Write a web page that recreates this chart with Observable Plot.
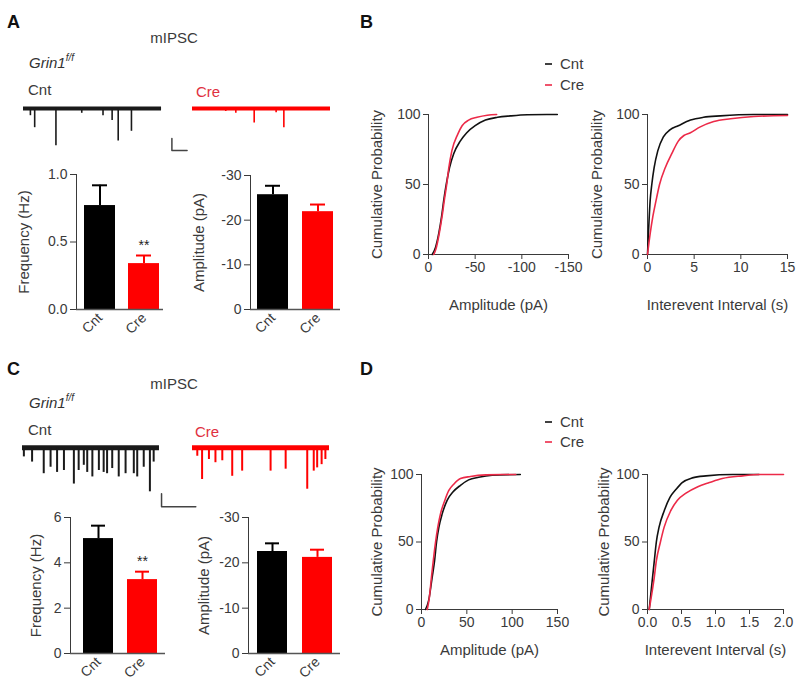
<!DOCTYPE html>
<html><head><meta charset="utf-8">
<script src="https://cdn.jsdelivr.net/npm/d3@7"></script>
<script src="https://cdn.jsdelivr.net/npm/@observablehq/plot@0.6"></script>
<style>
html,body{margin:0;padding:0;background:#fff;}
#fig{position:relative;width:800px;height:689px;overflow:hidden;background:#fff;}
#fig svg{position:absolute;overflow:visible;}
#fig g[aria-label$="axis label"]{font-size:15px;}
</style></head><body><div id="fig"></div><script>
// ---------- DATA ----------
const groups = ["Cnt", "Cre"];
// Panel A bars
const freqA = [0.77, 0.34], freqA_sem = [0.15, 0.06];
const ampA = [25.7, 21.9], ampA_sem = [2.0, 1.6];
// Panel C bars
const freqC = [5.07, 3.26], freqC_sem = [0.57, 0.35];
const ampC = [22.5, 21.2], ampC_sem = [1.8, 1.7];

// Example traces: event time (s) and amplitude (pA)
const traceA_cnt_t = [0.5, 0.81, 2.35, 4.22, 5.76, 6.42, 6.86, 7.82];
const traceA_cnt_amp = [6, 16, 31, 4, 6, 10, 27, 19];
const traceA_cre_t = [2.41, 3.14, 4.47, 6.06, 6.62];
const traceA_cre_amp = [2.5, 4, 12, 3.5, 16];
const traceC_cnt_t = [0.04,0.28,0.62,0.82,1.01,1.21,1.50,1.64,1.79,1.89,2.04,2.23,2.37,2.47,2.62,2.81,3.01,3.25,3.35,3.54,3.72,3.83];
const traceC_cnt_amp = [7,11,20,15,19,17.5,28,17.5,13.5,19,22.5,17.5,19,20,16,22.5,20,20,22.5,15,34,11];
const traceC_cre_t = [0.14,0.28,0.48,0.67,0.87,1.16,1.45,2.28,2.72,3.35,3.54,3.64,3.77,3.88];
const traceC_cre_amp = [6.5,24.5,9,11.5,10,22,18,18,16.5,32,18,15.5,13,9];

// Cumulative distributions [x, cumulative %]
const cumB_amp_cnt = [[4,0],[7.5,5],[11,15],[14,27],[16.4,39],[19,50],[22.5,62],[27,72],[34,81],[41,87],[50,92],[61,96],[74,98],[88,99],[106,99.8],[138,100]];
const cumB_amp_cre = [[5.7,0],[8,4],[11.5,15],[14.5,27],[17,39],[19.5,50],[21.8,62],[25,74],[31.4,86],[36,92],[43,96],[52,98],[63,99.5],[73,100]];
const cumB_int_cnt = [[0,0],[0.1,15],[0.29,39],[0.46,50],[0.71,62],[1.1,74],[1.7,84],[2.4,89],[3.3,92],[4.6,96],[6,98],[7.8,99],[11.4,100],[15,100]];
const cumB_int_cre = [[0,0],[0.29,15],[0.57,27],[0.93,39],[1.29,50],[1.9,62],[2.6,72],[3.3,81],[3.9,85],[4.6,87],[5.6,91],[7.1,95],[8.9,97],[11.4,98.6],[15,99.3]];
const cumD_amp_cnt = [[4.4,0],[8,7],[11.8,24],[14.4,36],[16.6,50],[19.2,61],[22.9,71],[28.4,81],[34.6,87],[43,92],[52,96],[63,98],[78,99.5],[109,100]];
const cumD_amp_cre = [[6.3,0],[8.5,8],[11,24],[15.5,50],[18,61],[21,71],[25.8,81],[30,88],[35.8,93],[43,97],[54,98.5],[71,99.7],[89,100],[104,100]];
const cumD_int_cnt = [[0.025,0],[0.05,12],[0.1,36],[0.13,50],[0.17,61],[0.245,73],[0.33,83],[0.42,89],[0.51,94],[0.66,97.5],[0.86,99],[1.25,100],[1.64,100]];
const cumD_int_cre = [[0.025,0],[0.064,12],[0.1,24],[0.13,36],[0.19,50],[0.245,61],[0.34,73],[0.44,81],[0.56,86],[0.74,91],[0.91,94],[1.1,97],[1.4,99],[1.64,100],[2.0,100]];

// ---------- STYLE ----------
const FONT = '"Liberation Sans", Arial, Helvetica, sans-serif';
const INK = "#3a3a3a";
const BLACK = "#111111";
const RED_BAR = "#ff0000";
const RED_LINE = "#ec2a48";
const RED_TEXT = "#e0303e";
const fig = document.getElementById("fig");

function place(el, left, top) {
  el.style.position = "absolute";
  el.style.left = left + "px";
  el.style.top = top + "px";
  el.style.maxWidth = "none";
  fig.appendChild(el);
}
function style(size = 14) {
  return {fontFamily: FONT, fontSize: size + "px", color: INK, background: "transparent", overflow: "visible"};
}
function bandOpts(r0, r1, st, bw, s) {
  const n = 2, pi = 1 - bw / s;
  const po = ((r1 - r0) / s - n + pi) / 2;
  const align = (st - r0) / ((r1 - r0) - s * (n - pi));
  return {paddingInner: pi, paddingOuter: po, align};
}

// ---------- TRACES ----------
function trace({left, top, width, height, tMax, tLen, yDom, t, amp, color, base, spikeW, bar}) {
  const ev = t.map((ti, i) => ({t: ti, a: -amp[i]}));
  const marks = [
    Plot.ruleY([0], {x1: 0, x2: tLen, stroke: color, strokeWidth: base}),
    Plot.ruleX(ev, {x: "t", y1: 0, y2: "a", stroke: color, strokeWidth: spikeW})
  ];
  if (bar) {
    const pts = [{t: bar.t0, a: bar.a0}, {t: bar.t0, a: bar.a0 - bar.pA}, {t: bar.t0 + bar.s, a: bar.a0 - bar.pA}];
    marks.push(Plot.line(pts, {x: "t", y: "a", stroke: "#444", strokeWidth: 1.5}));
  }
  const p = Plot.plot({width, height, margin: 0, x: {domain: [0, tMax], axis: null}, y: {domain: yDom, axis: null}, marks, style: style()});
  place(p, left, top);
}
trace({left: 23, top: 96, width: 168, height: 66, tMax: 12.17, tLen: 10, yDom: [-45, 10], t: traceA_cnt_t, amp: traceA_cnt_amp, color: "#1a1a1a", base: 4, spikeW: 1.6, bar: {t0: 10.75, a0: -25, pA: 10, s: 1.1}});
trace({left: 192, top: 96, width: 138, height: 66, tMax: 10, tLen: 10, yDom: [-45, 10], t: traceA_cre_t, amp: traceA_cre_amp, color: RED_BAR, base: 4, spikeW: 1.6});
trace({left: 22, top: 437, width: 175, height: 75, tMax: 5.11, tLen: 4, yDom: [-50, 8], t: traceC_cnt_t, amp: traceC_cnt_amp, color: "#1a1a1a", base: 5, spikeW: 2, bar: {t0: 4.06, a0: -35.5, pA: 10, s: 1}});
trace({left: 192, top: 437, width: 137, height: 75, tMax: 4, tLen: 4, yDom: [-50, 8], t: traceC_cre_t, amp: traceC_cre_amp, color: RED_BAR, base: 5, spikeW: 2});

// ---------- BARS ----------
function bars({left, top, width, height, axisX, axisEnd, yTop, yBottom, st, bw, s, domain, ticks, fmt, label, labelOffset, vals, sems, stars}) {
  const data = groups.map((g, i) => ({g, v: vals[i], e: sems[i], c: i === 0 ? "#000000" : RED_BAR}));
  const marks = [
    Plot.barY(data, {x: "g", y: "v", fill: "c"}),
    Plot.ruleX(data, {x: "g", y1: "v", y2: d => d.v + d.e, stroke: "c", strokeWidth: 2}),
    Plot.tickY(data, {x: "g", y: d => d.v + d.e, stroke: "c", strokeWidth: 2, insetLeft: 8, insetRight: 8}),
    Plot.ruleY([0], {stroke: "#555", strokeWidth: 1.5})
  ];
  if (stars) marks.push(Plot.text([data[1]], {x: "g", y: d => d.v + d.e, text: () => "**", dy: -10, fontSize: 14, fill: "#222"}));
  const p = Plot.plot({
    width, height,
    marginLeft: axisX - left, marginRight: left + width - axisEnd,
    marginTop: yTop - top, marginBottom: top + height - yBottom,
    color: {type: "identity"},
    x: {domain: groups, ...bandOpts(axisX, axisEnd, st, bw, s), tickRotate: -45, tickSize: 0, tickPadding: 6, label: null},
    y: {domain, ticks, tickFormat: fmt, label, labelArrow: "none", labelAnchor: "center", labelOffset, line: true, tickSize: 6, tickPadding: 3},
    marks, style: style(14)
  });
  place(p, left, top);
}
const negFmt = d => d === 0 ? "0" : "-" + d;
bars({left: 0, top: 150, width: 175, height: 200, axisX: 76, axisEnd: 163, yTop: 174, yBottom: 309, st: 83, bw: 32, s: 45,
  domain: [0, 1], ticks: [0, 0.5, 1], fmt: d3.format(".1f"), label: "Frequency (Hz)", labelOffset: 58, vals: freqA, sems: freqA_sem, stars: true});
bars({left: 170, top: 150, width: 180, height: 200, axisX: 250, axisEnd: 340, yTop: 175, yBottom: 309, st: 257, bw: 31, s: 45,
  domain: [0, 30], ticks: [0, 10, 20, 30], fmt: negFmt, label: "Amplitude (pA)", labelOffset: 57, vals: ampA, sems: ampA_sem});
bars({left: 0, top: 495, width: 175, height: 195, axisX: 70, axisEnd: 165, yTop: 517, yBottom: 653, st: 83, bw: 30, s: 44,
  domain: [0, 6], ticks: [0, 2, 4, 6], fmt: d3.format("d"), label: "Frequency (Hz)", labelOffset: 40, vals: freqC, sems: freqC_sem, stars: true});
bars({left: 170, top: 495, width: 180, height: 195, axisX: 248, axisEnd: 340, yTop: 517, yBottom: 653, st: 257, bw: 30, s: 45,
  domain: [0, 30], ticks: [0, 10, 20, 30], fmt: negFmt, label: "Amplitude (pA)", labelOffset: 50, vals: ampC, sems: ampC_sem});

// ---------- CUMULATIVE ----------
function cum({left, top, width, height, fx0, fx1, fy0, fy1, xDomain, xTicks, xFmt, xLabel, xLabelOffset, yLabelOffset, cnt, cre}) {
  const toObj = a => a.map(([x, y]) => ({x, y}));
  const p = Plot.plot({
    width, height,
    marginLeft: fx0 - left, marginRight: left + width - fx1,
    marginTop: fy0 - top, marginBottom: top + height - fy1,
    x: {domain: xDomain, ticks: xTicks, tickFormat: xFmt, label: xLabel, labelArrow: "none", labelAnchor: "center", labelOffset: xLabelOffset, line: true, tickSize: 5, tickPadding: 3},
    y: {domain: [0, 100], ticks: [0, 50, 100], label: "Cumulative Probability", labelArrow: "none", labelAnchor: "center", labelOffset: yLabelOffset, line: true, tickSize: 5, tickPadding: 3},
    marks: [
      Plot.line(toObj(cnt), {x: "x", y: "y", stroke: BLACK, strokeWidth: 1.6, curve: "monotone-x"}),
      Plot.line(toObj(cre), {x: "x", y: "y", stroke: RED_LINE, strokeWidth: 1.6, curve: "monotone-x"})
    ],
    style: style(14)
  });
  place(p, left, top);
}
cum({left: 360, top: 100, width: 220, height: 215, fx0: 428, fx1: 568, fy0: 114, fy1: 254, xDomain: [0, 150], xTicks: [0, 50, 100, 150], xFmt: negFmt,
  xLabel: "Amplitude (pA)", xLabelOffset: 55, yLabelOffset: 57, cnt: cumB_amp_cnt, cre: cumB_amp_cre});
cum({left: 580, top: 100, width: 220, height: 215, fx0: 647, fx1: 787, fy0: 114, fy1: 254, xDomain: [0, 15], xTicks: [0, 5, 10, 15], xFmt: d3.format("d"),
  xLabel: "Interevent Interval (s)", xLabelOffset: 55, yLabelOffset: 56, cnt: cumB_int_cnt, cre: cumB_int_cre});
cum({left: 360, top: 460, width: 215, height: 200, fx0: 421, fx1: 557, fy0: 474, fy1: 609, xDomain: [0, 150], xTicks: [0, 50, 100, 150], xFmt: d3.format("d"),
  xLabel: "Amplitude (pA)", xLabelOffset: 45, yLabelOffset: 50, cnt: cumD_amp_cnt, cre: cumD_amp_cre});
cum({left: 580, top: 460, width: 215, height: 200, fx0: 647, fx1: 783, fy0: 474, fy1: 609, xDomain: [0, 2], xTicks: [0, 0.5, 1, 1.5, 2], xFmt: d3.format(".1f"),
  xLabel: "Interevent Interval (s)", xLabelOffset: 45, yLabelOffset: 49, cnt: cumD_int_cnt, cre: cumD_int_cre});

// ---------- ANNOTATIONS ----------
const NS = "http://www.w3.org/2000/svg";
const ov = document.createElementNS(NS, "svg");
ov.setAttribute("width", 800); ov.setAttribute("height", 689);
ov.style.left = "0px"; ov.style.top = "0px"; ov.style.pointerEvents = "none";
ov.setAttribute("font-family", FONT);
fig.appendChild(ov);
function txt(x, y, s, o = {}) {
  const t = document.createElementNS(NS, "text");
  t.setAttribute("x", x); t.setAttribute("y", y);
  t.setAttribute("font-size", o.size || 15);
  t.setAttribute("fill", o.fill || INK);
  if (o.weight) t.setAttribute("font-weight", o.weight);
  if (o.anchor) t.setAttribute("text-anchor", o.anchor);
  if (o.italic) t.setAttribute("font-style", "italic");
  t.textContent = s;
  ov.appendChild(t);
  return t;
}
function grin(x, y) {
  const t = txt(x, y, "Grin1", {italic: true, fill: "#333"});
  const sup = document.createElementNS(NS, "tspan");
  sup.setAttribute("font-size", 10); sup.setAttribute("dy", -7);
  sup.textContent = "f/f";
  t.appendChild(sup);
}
function dash(x1, x2, y, c) {
  const l = document.createElementNS(NS, "line");
  l.setAttribute("x1", x1); l.setAttribute("x2", x2); l.setAttribute("y1", y); l.setAttribute("y2", y);
  l.setAttribute("stroke", c); l.setAttribute("stroke-width", 1.6);
  ov.appendChild(l);
}
txt(7, 28, "A", {size: 18, weight: "bold", fill: "#111"});
txt(360, 28, "B", {size: 18, weight: "bold", fill: "#111"});
txt(7, 375, "C", {size: 18, weight: "bold", fill: "#111"});
txt(360, 375, "D", {size: 18, weight: "bold", fill: "#111"});
txt(174, 43, "mIPSC", {anchor: "middle"});
txt(174, 389, "mIPSC", {anchor: "middle"});
grin(29, 68); grin(29, 408);
txt(28, 95, "Cnt"); txt(28, 435, "Cnt");
txt(196, 97, "Cre", {fill: RED_TEXT}); txt(195, 437, "Cre", {fill: RED_TEXT});
// legends
dash(545, 552, 64, BLACK); txt(560, 69, "Cnt");
dash(545, 552, 85, RED_LINE); txt(560, 90, "Cre");
dash(545, 552, 422, BLACK); txt(560, 427, "Cnt");
dash(545, 552, 442, RED_LINE); txt(560, 447, "Cre");
</script></body></html>
